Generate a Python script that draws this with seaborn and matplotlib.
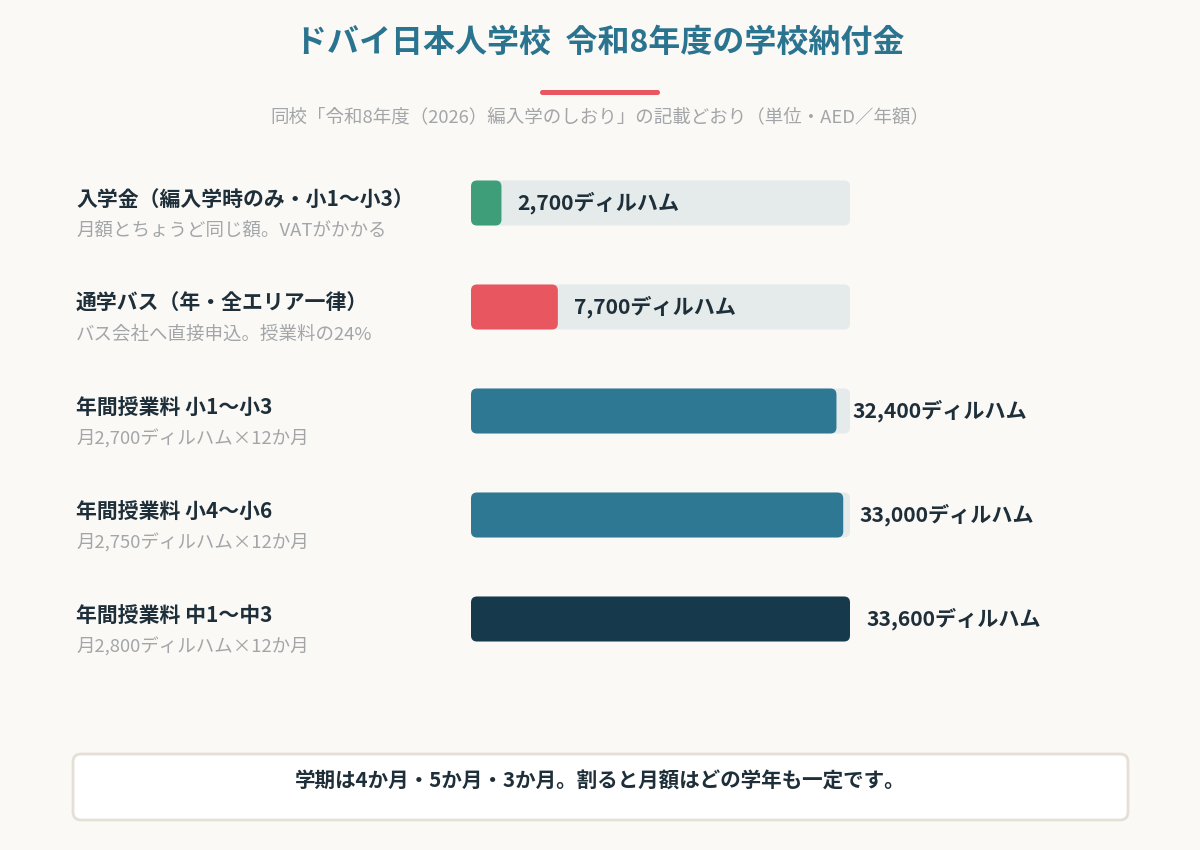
import matplotlib
matplotlib.use("Agg")
import matplotlib.pyplot as plt
import seaborn as sns
import pandas as pd
from matplotlib.patches import FancyBboxPatch
from matplotlib.transforms import blended_transform_factory

# ---- data ----
labels = ["入学金（編入学時のみ・小1〜小3）", "通学バス（年・全エリア一律）",
          "年間授業料 小1〜小3", "年間授業料 小4〜小6", "年間授業料 中1〜中3"]
sublabels = ["月額とちょうど同じ額。VATがかかる", "バス会社へ直接申込。授業料の24%",
             "月2,700ディルハム×12か月", "月2,750ディルハム×12か月", "月2,800ディルハム×12か月"]
values = [2700, 7700, 32400, 33000, 33600]
value_labels = ["2,700ディルハム", "7,700ディルハム", "32,400ディルハム",
                "33,000ディルハム", "33,600ディルハム"]
colors = ["#3E9E7A", "#E85660", "#2E7894", "#2E7894", "#163A4C"]
title = "ドバイ日本人学校  令和8年度の学校納付金"
subtitle = "同校「令和8年度（2026）編入学のしおり」の記載どおり（単位・AED／年額）"
note = "学期は4か月・5か月・3か月。割ると月額はどの学年も一定です。"

BG = "#FBF9F6"
TRACK = "#E5EBEB"
DARK = "#1E2F3A"
GRAY = "#A3A6A8"

sns.set_theme(style="white")
plt.rcParams["font.family"] = ["Noto Sans CJK JP", "DejaVu Sans"]

W, H = 1200, 850
fig = plt.figure(figsize=(12, 8.5), dpi=100, facecolor=BG)

# axes: x 471..850 px, rows centred at 203..619 (104 px apart)
ax = fig.add_axes([471 / W, 1 - 671 / H, 379 / W, 520 / H])
ax.set_facecolor("none")

df = pd.DataFrame({"label": labels, "value": values})
vmax = max(values)
track_df = pd.DataFrame({"label": labels, "value": [vmax] * len(labels)})

bw = 45 / 104
sns.barplot(data=track_df, x="value", y="label", orient="h", color=TRACK,
            width=bw, ax=ax, saturation=1)
sns.barplot(data=df, x="value", y="label", orient="h", hue="label",
            palette=colors, width=bw, ax=ax, saturation=1, legend=False)

ax.set_xlim(0, vmax)
ax.set_ylim(len(labels) - 0.5, -0.5)
ax.axis("off")

# rounded corners
xu_per_px = vmax / 379
yu_per_px = 1 / 104
aspect = yu_per_px / xu_per_px
for p in list(ax.patches):
    x0, y0 = p.get_x(), p.get_y()
    w, h = p.get_width(), p.get_height()
    fc = p.get_facecolor()
    z = p.get_zorder()
    p.remove()
    fb = FancyBboxPatch((x0, y0), w, h,
                        boxstyle=f"round,pad=0,rounding_size={6 * xu_per_px}",
                        mutation_aspect=aspect, facecolor=fc, edgecolor="none",
                        linewidth=0, zorder=z)
    ax.add_patch(fb)

# value labels
for i, (v, t) in enumerate(zip(values, value_labels)):
    ax.text(v + 16 * xu_per_px, i, t, ha="left", va="center", fontsize=15.2,
            fontweight="bold", color=DARK, clip_on=False)

# left labels
tr = blended_transform_factory(fig.transFigure, ax.transData)
for i, (l, s) in enumerate(zip(labels, sublabels)):
    fig.text(76 / W, i - 4 * yu_per_px, l, transform=tr, ha="left", va="center",
             fontsize=15, fontweight="bold", color=DARK)
    fig.text(76 / W, i + 28 * yu_per_px, s, transform=tr, ha="left", va="center",
             fontsize=13.3, color=GRAY)

# title, accent line, subtitle
fig.text(0.5, 1 - 43 / H, title, ha="center", va="center", fontsize=23,
         fontweight="bold", color="#2A7490")
fig.add_artist(FancyBboxPatch((540 / W, 1 - 95 / H), 120 / W, 5 / H,
                              boxstyle=f"round,pad=0,rounding_size={2.5 / W}",
                              mutation_aspect=W / H, transform=fig.transFigure,
                              facecolor="#E85660", edgecolor="none"))
fig.text(0.5, 1 - 117 / H, subtitle, ha="center", va="center", fontsize=13.3,
         color=GRAY)

# bottom note box
fig.add_artist(FancyBboxPatch((73 / W, 1 - 820 / H), 1055 / W, 66 / H,
                              boxstyle=f"round,pad=0,rounding_size={8 / W}",
                              mutation_aspect=W / H, transform=fig.transFigure,
                              facecolor="white", edgecolor="#E5DFD6",
                              linewidth=2))
fig.text(0.5, 1 - 781 / H, note, ha="center", va="center", fontsize=14.8,
         fontweight="bold", color=DARK)

fig.savefig("out.png", dpi=100, facecolor=BG)
